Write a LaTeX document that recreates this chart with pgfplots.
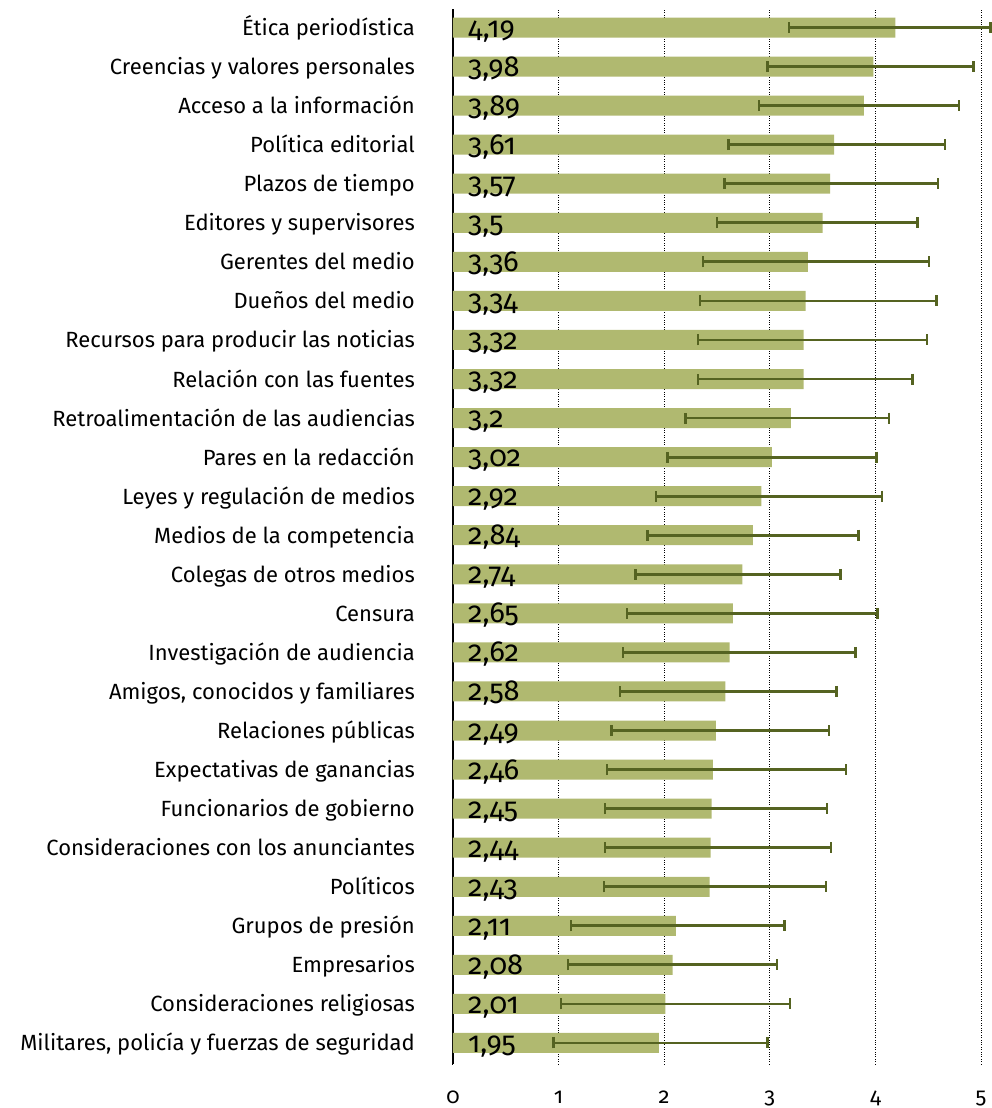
\documentclass[border=0pt]{standalone}
\usepackage{fontspec}
\setmainfont{Fira Sans}[Numbers=OldStyle]
\usepackage{pgfplots}
\pgfplotsset{compat=1.18}
\usepackage{pgfplotstable}
\definecolor{barc}{RGB}{176,185,112}
\definecolor{errc}{RGB}{85,99,33}

\pgfplotstableread{
idx val em ep z lab
26 4.19 1.01 0.90 0 4,19
25 3.98 1.00 0.95 0 3,98
24 3.89 0.99 0.90 0 3,89
23 3.61 1.00 1.05 0 3,61
22 3.57 1.00 1.02 0 3,57
21 3.50 1.00 0.90 0 3,5
20 3.36 0.99 1.15 0 3,36
19 3.34 1.00 1.24 0 3,34
18 3.32 1.00 1.17 0 3,32
17 3.32 1.00 1.03 0 3,32
16 3.20 1.00 0.93 0 3,2
15 3.02 0.99 0.99 0 3,02
14 2.92 1.00 1.14 0 2,92
13 2.84 1.00 1.00 0 2,84
12 2.74 1.01 0.93 0 2,74
11 2.65 1.00 1.37 0 2,65
10 2.62 1.01 1.19 0 2,62
9 2.58 1.00 1.05 0 2,58
8 2.49 0.99 1.07 0 2,49
7 2.46 1.00 1.26 0 2,46
6 2.45 1.01 1.09 0 2,45
5 2.44 1.00 1.14 0 2,44
4 2.43 1.00 1.10 0 2,43
3 2.11 0.99 1.03 0 2,11
2 2.08 0.99 0.99 0 2,08
1 2.01 0.99 1.18 0 2,01
0 1.95 1.00 1.03 0 1,95
}\datatable

\begin{document}
\begin{tikzpicture}
\useasboundingbox (-453pt,-44pt) rectangle (539pt,1064pt);
\begin{axis}[
  scale only axis,
  width=539pt, height=1055pt,
  xmin=0, xmax=5.104,
  ymin=-0.538, ymax=26.474,
  clip=false,
  axis lines*=left,
  x axis line style={draw=none},
  y axis line style={black, line width=1.5pt},
  major tick length=0pt,
  xtick={0,1,2,3,4,5},
  xticklabels={0,1,2,3,4,5},
  xmajorgrids,
  major x grid style={black, dotted, line width=1pt},
  xticklabel style={anchor=base, yshift=-39pt, font=\fontsize{22pt}{26pt}\selectfont},
  ytick={0,...,26},
  yticklabels={
    {Militares, policía y fuerzas de seguridad},
    {Consideraciones religiosas},
    {Empresarios},
    {Grupos de presión},
    {Políticos},
    {Consideraciones con los anunciantes},
    {Funcionarios de gobierno},
    {Expectativas de ganancias},
    {Relaciones públicas},
    {Amigos, conocidos y familiares},
    {Investigación de audiencia},
    {Censura},
    {Colegas de otros medios},
    {Medios de la competencia},
    {Leyes y regulación de medios},
    {Pares en la redacción},
    {Retroalimentación de las audiencias},
    {Relación con las fuentes},
    {Recursos para producir las noticias},
    {Dueños del medio},
    {Gerentes del medio},
    {Editores y supervisores},
    {Plazos de tiempo},
    {Política editorial},
    {Acceso a la información},
    {Creencias y valores personales},
    {Ética periodística}},
  yticklabel style={anchor=base east, inner sep=0pt, xshift=-38pt, yshift=-8pt, font=\fontsize{22pt}{26pt}\selectfont},
]
\addplot[xbar, bar width=20pt, bar shift=0pt, fill=barc, draw=none]
  table[x=val, y=idx] {\datatable};
\addplot[draw=none, mark=none, line width=2.8pt,
  error bars/.cd, x dir=both, x explicit,
  error mark=|,
  error bar style={draw=errc, solid, line width=2.8pt},
  error mark options={draw=errc, solid, line width=2.4pt, mark size=5.5pt}]
  table[x=val, y=idx, x error plus=ep, x error minus=em] {\datatable};
\addplot[draw=none, mark=none, nodes near coords, point meta=explicit symbolic,
  every node near coord/.append style={anchor=base west, inner sep=0pt, xshift=15pt, yshift=-9.5pt, text=black, font=\fontsize{29pt}{34pt}\selectfont}]
  table[x=z, y=idx, meta=lab] {\datatable};
\end{axis}
\end{tikzpicture}
\end{document}
